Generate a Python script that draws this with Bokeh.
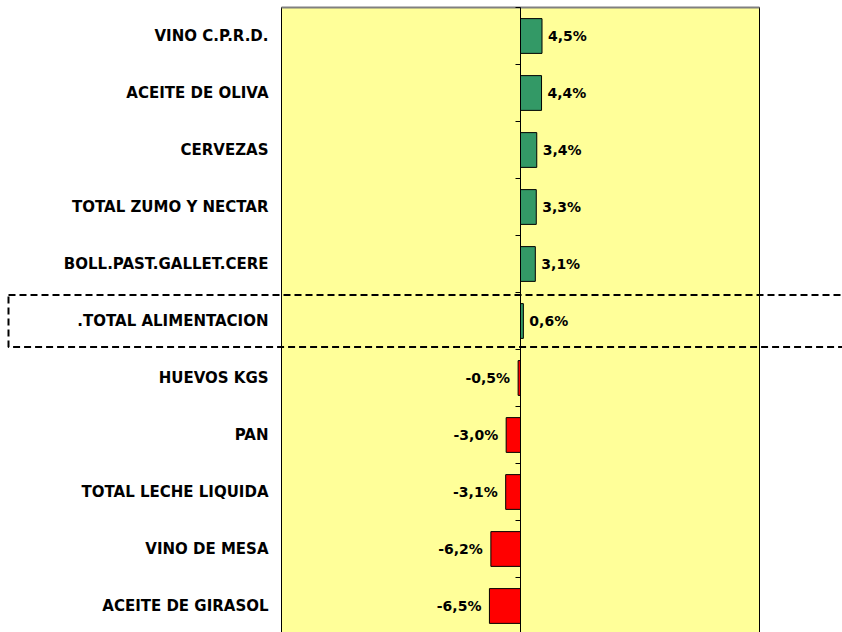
from bokeh.plotting import figure
from bokeh.models import ColumnDataSource, Range1d
from bokeh.core.properties import value
from bokeh.embed import file_html
from bokeh.resources import INLINE

# ---- data ----
categories = ["VINO C.P.R.D.", "ACEITE DE OLIVA", "CERVEZAS", "TOTAL ZUMO Y NECTAR",
              "BOLL.PAST.GALLET.CERE", ".TOTAL ALIMENTACION", "HUEVOS KGS", "PAN",
              "TOTAL LECHE LIQUIDA", "VINO DE MESA", "ACEITE DE GIRASOL"]
values_pct = [4.5, 4.4, 3.4, 3.3, 3.1, 0.6, -0.5, -3.0, -3.1, -6.2, -6.5]
highlight = ".TOTAL ALIMENTACION"
axis_min, axis_max = -50, 50

# ---- layout / style ----
W, H = 842, 632
ZERO_PX = 520          # pixel of x=0 inside the figure
PX_PER_UNIT = 4.78
CAT_PX = 57
TOP_OFFSET_PX = 7

x_start = -ZERO_PX / PX_PER_UNIT
x_end = x_start + W / PX_PER_UNIT
y_top = -0.5 - TOP_OFFSET_PX / CAT_PX
y_bottom = y_top + H / CAT_PX

GREEN = "#339966"
RED = "#FF0000"
YELLOW = "#FFFF99"
FONT = value("DejaVu Sans")

idx = list(range(len(categories)))
colors = [GREEN if v >= 0 else RED for v in values_pct]
labels = [("%.1f" % v).replace(".", ",") + "%" for v in values_pct]

src = ColumnDataSource(dict(y=idx, v=values_pct, zero=[0] * len(idx), c=colors,
                            lab=labels, cat=categories))

p = figure(width=W, height=H, output_backend="svg", toolbar_location=None,
           x_range=Range1d(x_start, x_end), y_range=Range1d(y_bottom, y_top),
           x_axis_location=None, y_axis_location=None,
           min_border=0, min_border_left=0, min_border_right=0,
           min_border_top=0, min_border_bottom=0)
p.outline_line_color = None
p.xgrid.visible = False
p.ygrid.visible = False
p.background_fill_color = "white"
p.border_fill_color = "white"

# plot area
p.quad(left=[axis_min], right=[axis_max], top=[-0.5], bottom=[y_bottom + 1],
       fill_color=YELLOW, line_color="black", line_width=1)
p.segment(x0=[axis_min], x1=[axis_max], y0=[-0.5], y1=[-0.5], line_color="#808080", line_width=2)

# bars
p.hbar(y="y", left="zero", right="v", height=0.61, fill_color="c",
       line_color="black", line_width=1, source=src)

# zero axis line and tick marks between categories
p.segment(x0=[0], x1=[0], y0=[-0.5], y1=[y_bottom + 1], line_color="black", line_width=1)
bounds = [i - 0.5 for i in idx] + [idx[-1] + 0.5]
p.segment(x0=[0] * len(bounds), x1=[-5 / PX_PER_UNIT] * len(bounds), y0=bounds, y1=bounds,
          line_color="black", line_width=1)

# value labels
pos = ColumnDataSource(dict(x=[v for v in values_pct if v >= 0],
                            y=[i for i, v in zip(idx, values_pct) if v >= 0],
                            t=[l for l, v in zip(labels, values_pct) if v >= 0]))
neg = ColumnDataSource(dict(x=[v for v in values_pct if v < 0],
                            y=[i for i, v in zip(idx, values_pct) if v < 0],
                            t=[l for l, v in zip(labels, values_pct) if v < 0]))
p.text(x="x", y="y", text="t", source=pos, x_offset=6, text_align="left",
       text_baseline="middle", text_font=FONT, text_font_style="bold",
       text_font_size="14px", text_color="black")
p.text(x="x", y="y", text="t", source=neg, x_offset=-8, text_align="right",
       text_baseline="middle", text_font=FONT, text_font_style="bold",
       text_font_size="14px", text_color="black")

# category labels
p.text(x=axis_min, y="y", text="cat", source=src, x_offset=-13, text_align="right",
       text_baseline="middle", text_font=FONT, text_font_style="bold",
       text_font_size="15px", text_color="black")

# dashed highlight box
hi = categories.index(highlight)
p.quad(left=[x_start + 8 / PX_PER_UNIT], right=[x_end + 10], top=[hi - 0.456],
       bottom=[hi + 0.456], fill_color=None, line_color="black", line_width=2,
       line_dash="7 4")

open("out.html", "w").write(file_html(p, INLINE))
